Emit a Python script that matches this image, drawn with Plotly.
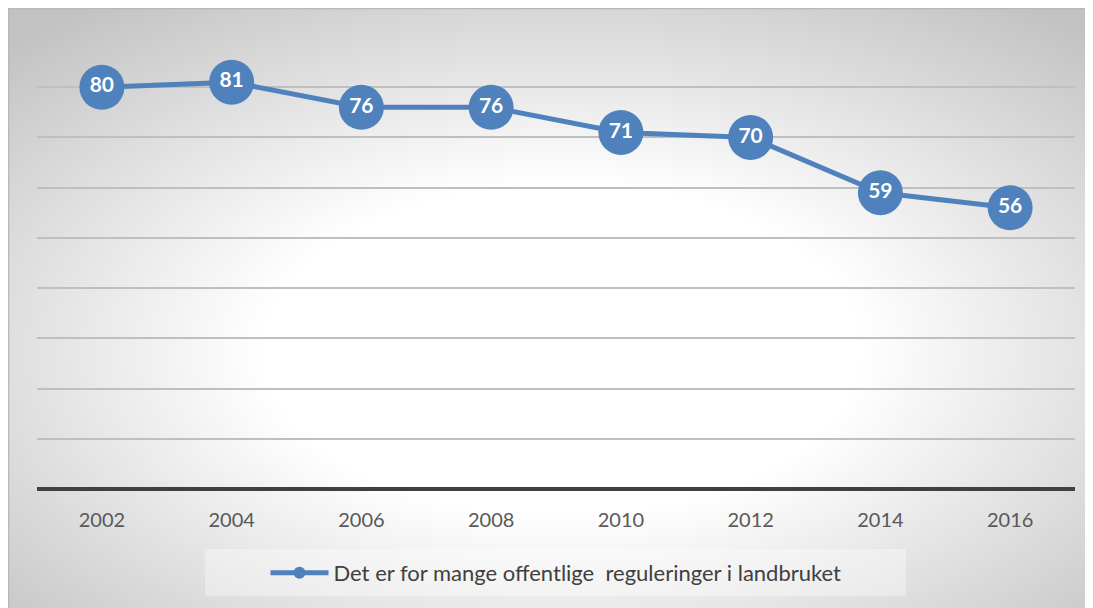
import base64

import plotly.graph_objects as go

years = ["2002", "2004", "2006", "2008", "2010", "2012", "2014", "2016"]
share = [80, 81, 76, 76, 71, 70, 59, 56]
series_name = "Det er for mange offentlige\u00a0 reguleringer i landbruket"

# the page body adds an 8px margin, so the figure is drawn 8px in
OFF = 8
W, H = 1093 - OFF, 608 - OFF
L, R, T, B = 37 - OFF, 18, 37 - OFF, 119
pw, ph = W - L - R, H - T - B


def px_x(p):
    return (p - OFF - L) / pw


def px_y(p):
    return (H - B - (p - OFF)) / ph


# soft radial background like the office chart style
svg = (
    '<svg xmlns="http://www.w3.org/2000/svg" width="1085" height="600" preserveAspectRatio="none">'
    '<defs><radialGradient id="g" cx="51%" cy="57%" r="72%">'
    '<stop offset="0%" stop-color="#ffffff"/>'
    '<stop offset="38%" stop-color="#ffffff"/>'
    '<stop offset="100%" stop-color="#c2c2c2"/>'
    '</radialGradient></defs>'
    '<rect width="1085" height="600" fill="url(#g)"/>'
    '<path d="M0.5,600 V0.5 H1085" fill="none" stroke="#b8b8b8" stroke-width="1.5"/></svg>'
)
bg_src = "data:image/svg+xml;base64," + base64.b64encode(svg.encode()).decode()

blue = "#4F81BD"

fig = go.Figure()
fig.add_trace(go.Scatter(
    x=years, y=share, name=series_name,
    mode="lines+markers+text",
    line=dict(color=blue, width=5),
    marker=dict(color=blue, size=45),
    text=[str(v) for v in share],
    textposition="middle center",
    textfont=dict(family="Lato", size=21, color="white", weight="bold"),
    cliponaxis=False,
))

fig.update_layout(
    width=W, height=H,
    margin=dict(l=L, r=R, t=T, b=B),
    paper_bgcolor="white",
    plot_bgcolor="rgba(0,0,0,0)",
    showlegend=True,
    legend=dict(
        orientation="h", x=0.5, xanchor="center",
        y=px_y(573), yanchor="middle",
        font=dict(family="Lato", size=22, color="#404040"),
        bgcolor="rgba(0,0,0,0)",
        itemwidth=58, itemsizing="constant",
    ),
    xaxis=dict(
        type="category", range=[-0.5, 7.5],
        showgrid=False, showline=False, zeroline=False,
        ticks="", tickfont=dict(family="Lato", size=20, color="#595959"),
        ticklabelstandoff=17,
    ),
    yaxis=dict(
        range=[0, 90], dtick=10, showticklabels=False,
        gridcolor="#bfbfbf", gridwidth=1.5,
        zeroline=True, zerolinecolor="#404040", zerolinewidth=3.5,
        showline=False,
    ),
    images=[dict(
        source=bg_src, xref="paper", yref="paper",
        x=px_x(OFF), y=px_y(OFF), sizex=W / pw, sizey=H / ph,
        xanchor="left", yanchor="top", sizing="stretch", layer="below",
    )],
    shapes=[
        dict(type="rect", xref="paper", yref="paper",
             x0=px_x(205), x1=px_x(906), y0=px_y(596), y1=px_y(549),
             line=dict(width=0), fillcolor="rgba(255,255,255,0.35)",
             layer="below"),
    ],
)

fig.write_html("out.html")
